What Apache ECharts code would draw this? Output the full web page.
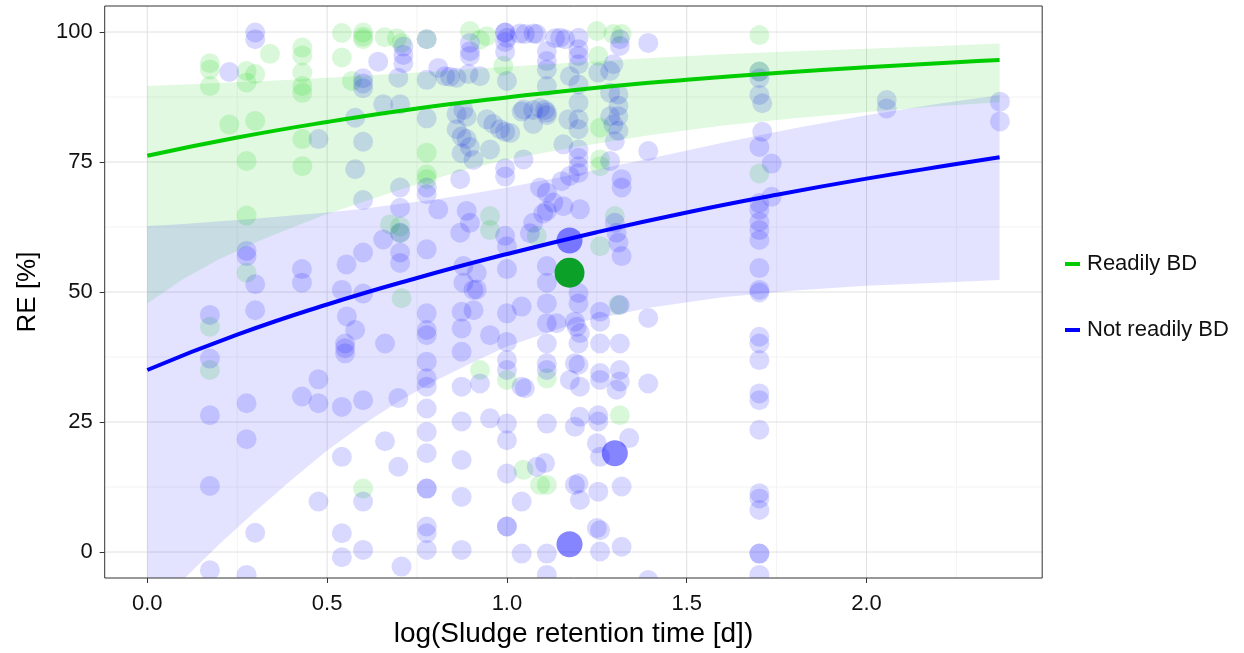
<!DOCTYPE html>
<html><head><meta charset="utf-8">
<script src="https://cdn.jsdelivr.net/npm/echarts@6/dist/echarts.min.js"></script>
<style>html,body{margin:0;padding:0;background:#fff}#c{width:1244px;height:653px}</style>
</head><body><div id="c"></div>
<script>
// ---- axis ticks ----
const xTicks = [0, 0.5, 1, 1.5, 2];
const xMinor = [0.25, 0.75, 1.25, 1.75, 2.25];
const yTicks = [0, 25, 50, 75, 100];
const yMinor = [12.5, 37.5, 62.5, 87.5];
const XMIN = -0.1185, XMAX = 2.4885, YMIN = -5, YMAX = 105;

// ---- fitted curves ----
const readilyFit = [[0,76.2],[0.25,79.7],[0.5,82.7],[0.75,85.3],[1.0,87.4],[1.25,89.3],[1.5,90.8],[1.75,92.1],[2.0,93.2],[2.25,94.2],[2.37,94.6]];
const notReadilyFit = [[0,35.0],[0.25,41.8],[0.5,47.6],[0.75,52.7],[1.0,57.3],[1.25,61.5],[1.5,65.3],[1.75,68.7],[2.0,71.8],[2.25,74.6],[2.37,75.9]];

// ---- confidence bands ----
const bandX          = [0, 0.1, 0.2, 0.3, 0.4, 0.5, 0.6, 0.7, 0.8, 0.9, 1.0, 1.2, 1.4, 1.6, 1.8, 2.0, 2.2, 2.37];
const readilyUpper   = [89.6,89.9,90.2,90.5,90.8,91.2,91.6,92.0,92.4,92.9,93.3,94.2,95.0,95.7,96.3,96.8,97.3,97.8];
const readilyLower   = [47.8,52.5,56.3,59.5,62.3,65.0,67.3,69.6,71.8,73.8,75.5,78.0,80.2,82.0,83.4,84.6,85.7,86.5];
const notReadilyUpper= [62.7,63.1,63.6,64.1,64.7,65.3,66.0,66.9,67.8,68.9,70.1,72.8,75.7,78.7,81.5,84.0,86.2,87.9];
const notReadilyLower= [-12.5,-5.3,1.5,7.8,13.8,19.5,24.5,29.0,32.9,36.3,39.5,44.2,47.0,49.0,50.3,51.2,51.8,52.3];

// ---- observations ----
const readilyPoints = [
 [0.174,94.0],[0.174,92.8],[0.174,89.6],[0.174,43.3],[0.174,35.0],
 [0.228,82.2],
 [0.276,92.5],[0.276,90.3],[0.276,75.2],[0.276,64.7],[0.276,53.7],
 [0.30,91.9],[0.30,82.9],[0.341,95.8],
 [0.431,97.0],[0.431,95.5],[0.431,92.2],[0.431,89.6],[0.431,88.3],[0.431,79.4],[0.431,74.2],
 [0.541,99.8],[0.541,95.1],[0.569,90.6],
 [0.60,99.9],[0.60,99.1],[0.60,98.6],[0.60,12.2],
 [0.66,99.0],[0.675,63.0],[0.694,98.8],[0.703,62.6],[0.703,61.3],[0.707,97.9],[0.707,48.8],
 [0.777,98.6],[0.777,76.8],[0.777,72.6],[0.777,71.7],
 [0.897,100.2],[0.925,98.5],[0.925,35.0],[0.944,99.2],[0.953,64.6],[0.953,61.9],
 [0.99,93.5],[1.0,33.1],[1.046,15.8],[1.083,60.8],[1.092,12.9],[1.111,33.4],[1.111,12.9],
 [1.25,100.2],[1.254,95.4],[1.259,81.6],[1.259,75.5],[1.259,74.2],[1.259,58.8],
 [1.296,99.6],[1.319,99.6],[1.30,64.6],[1.31,47.5],[1.314,26.3],
 [1.702,99.4],[1.702,92.4],[1.702,72.8]
];
const notReadilyPoints = [
 [0.174,45.6],[0.174,37.2],[0.174,26.3],[0.174,12.7],[0.174,-3.5],
 [0.228,92.3],
 [0.276,57.9],[0.276,56.9],[0.276,28.6],[0.276,21.7],[0.276,-4.4],
 [0.30,99.9],[0.30,98.6],[0.30,51.5],[0.30,46.5],[0.30,3.7],
 [0.43,54.4],[0.43,51.8],[0.43,29.9],
 [0.476,79.4],[0.476,33.2],[0.476,28.6],[0.476,9.7],
 [0.541,50.4],[0.541,27.9],[0.541,18.3],[0.541,3.6],[0.541,-1.0],[0.554,55.3],[0.555,45.3],
 [0.55,40.1],[0.55,38.2],[0.55,39.2],
 [0.578,42.7],[0.578,83.5],[0.578,73.6],
 [0.60,91.1],[0.60,90.1],[0.60,89.2],[0.60,78.9],[0.60,67.7],[0.60,57.6],[0.60,49.7],[0.60,29.2],[0.60,9.7],[0.60,0.4],
 [0.642,94.3],[0.656,86.1],[0.656,60.1],[0.661,40.1],[0.661,21.3],
 [0.698,91.2],[0.698,29.6],[0.698,16.4],
 [0.712,97.2],[0.712,95.6],[0.712,94.0],[0.703,86.1],[0.703,70.1],[0.703,66.2],[0.703,61.4],[0.703,57.6],[0.703,55.6],[0.707,-2.8],
 [0.777,98.6],[0.777,90.8],[0.777,83.4],[0.777,70.1],[0.777,68.8],[0.777,58.2],[0.777,45.9],[0.777,42.7],[0.777,41.7],[0.777,36.6],[0.777,33.4],[0.777,31.8],[0.777,27.6],[0.777,23.1],[0.777,19.0],[0.777,12.2],[0.777,12.2],[0.777,4.9],[0.777,3.6],[0.777,0.4],
 [0.809,93.1],[0.809,65.9],[0.828,91.5],[0.842,91.4],
 [0.86,91.2],[0.86,84.2],[0.86,81.3],
 [0.874,79.9],[0.874,76.7],[0.87,71.7],[0.87,61.4],[0.879,55.0],[0.879,51.8],[0.874,46.2],[0.874,43.0],[0.874,38.5],[0.874,31.8],[0.874,25.1],[0.874,17.7],[0.874,10.6],[0.874,0.4],[0.879,85.0],
 [0.888,83.7],[0.888,65.6],[0.888,79.4],[0.893,91.9],
 [0.897,97.9],[0.897,96.3],[0.897,95.4],[0.897,63.3],[0.897,77.9],
 [0.907,50.4],[0.907,46.5],[0.907,75.4],[0.916,53.7],[0.916,50.5],
 [0.925,91.5],[0.925,32.4],[0.944,83.2],[0.953,41.7],[0.953,25.7],[0.953,77.4],[0.962,82.3],[0.981,81.3],
 [0.995,99.9],[0.995,99.9],[1.0,98.9],[0.995,98.1],[0.995,96.2],[1.0,90.6],[0.995,80.8],[0.995,73.8],[0.995,72.2],[0.995,60.8],[1.0,58.8],[1.0,54.4],[1.0,45.9],[1.0,40.4],[1.0,36.9],[1.0,35.0],[1.0,24.7],[1.0,21.5],[1.0,15.1],[1.0,4.9],[1.0,4.9],
 [1.009,80.6],
 [1.036,99.7],[1.05,99.6],[1.046,85.1],[1.041,84.7],[1.046,75.5],[1.041,47.2],[1.041,31.8],[1.05,31.5],[1.041,9.7],[1.041,-0.3],
 [1.064,61.3],
 [1.074,99.7],[1.083,99.6],[1.073,85.0],[1.073,82.3],[1.073,63.3],[1.083,16.4],
 [1.092,85.4],[1.092,70.1],
 [1.111,96.3],[1.111,94.4],[1.111,92.8],[1.111,89.6],[1.106,85.0],[1.111,84.5],[1.111,84.0],[1.111,69.1],[1.111,65.6],[1.101,65.1],[1.111,55.0],[1.111,51.8],[1.111,47.8],[1.111,44.0],[1.111,40.1],[1.111,36.3],[1.111,35.0],[1.111,24.7],[1.106,17.1],[1.111,-0.3],[1.111,-4.4],
 [1.134,98.8],[1.129,67.2],[1.138,44.0],
 [1.148,98.9],[1.162,98.6],[1.157,78.4],[1.152,71.3],[1.157,66.5],
 [1.171,83.2],[1.175,91.5],[1.175,72.3],
 [1.199,98.9],[1.199,96.7],[1.199,95.4],[1.199,93.8],[1.199,89.9],[1.199,86.4],[1.199,83.2],[1.199,81.3],[1.199,77.4],[1.199,75.8],[1.199,74.2],[1.199,72.9],[1.203,65.9],[1.199,49.8],[1.199,47.8],[1.189,44.3],[1.194,43.3],[1.203,42.1],[1.199,40.1],[1.189,36.3],[1.199,36.0],[1.175,33.1],[1.203,31.8],[1.203,26.0],[1.189,24.1],[1.199,13.2],[1.189,12.9],[1.203,10.0],
 [1.254,92.2],[1.259,46.2],[1.259,44.3],[1.259,40.1],[1.259,34.4],[1.259,33.1],[1.254,25.1],[1.254,26.3],[1.25,20.9],[1.259,18.3],[1.254,11.6],[1.25,4.6],[1.259,4.2],[1.259,0.1],
 [1.296,93.8],[1.287,92.5],[1.287,88.3],[1.287,83.8],[1.296,82.2],[1.30,79.0],[1.287,75.2],
 [1.314,98.6],[1.314,97.3],[1.31,88.0],[1.31,85.8],[1.31,83.8],[1.31,81.0],[1.319,71.7],[1.319,70.1],[1.30,63.3],[1.305,61.4],[1.31,59.5],[1.319,56.9],[1.314,47.5],[1.314,40.1],[1.314,35.0],[1.314,32.8],[1.305,31.2],[1.319,12.6],[1.319,1.0],
 [1.34,21.9],
 [1.393,97.9],[1.393,77.1],[1.393,45.0],[1.393,32.4],[1.393,-5.4],
 [1.702,92.4],[1.702,91.1],[1.702,87.9],[1.71,86.3],[1.71,80.8],[1.702,77.9],[1.702,67.1],[1.702,65.8],[1.702,63.5],[1.702,61.9],[1.702,60.0],[1.702,54.6],[1.702,50.4],[1.702,49.9],[1.702,41.4],[1.702,40.1],[1.702,36.9],[1.702,30.5],[1.702,29.2],[1.702,23.5],[1.702,11.3],[1.702,10.3],[1.702,8.1],[1.702,-0.3],[1.702,-0.3],[1.702,-4.4],
 [1.736,74.7],[1.736,68.3],
 [2.056,86.9],[2.056,85.3],
 [2.371,86.6],[2.371,82.8]
];
// large marks (heavily overlapping observations)
const readilyLarge = [[1.174,53.7]];
const notReadilyLarge = [[1.174,59.9],[1.30,19.0],[1.174,1.5]];

const GREEN = '#00cd00', BLUE = '#0000ff';
const FONT = "'Liberation Sans', Arial, sans-serif";

function gridLineSeries(vals, dir, color, z) {
  return {
    type: 'custom', silent: true, z: z, clip: true,
    data: vals.map(v => [v]),
    encode: dir === 'v' ? { x: 0 } : { y: 0 },
    renderItem: (p, api) => {
      const v = api.value(0);
      const a = dir === 'v' ? api.coord([v, YMIN]) : api.coord([XMIN, v]);
      const b = dir === 'v' ? api.coord([v, YMAX]) : api.coord([XMAX, v]);
      return { type: 'line', shape: { x1: a[0], y1: a[1], x2: b[0], y2: b[1] }, style: { stroke: color, lineWidth: 1 } };
    }
  };
}
function pointSeries(name, data, color, size, opacity, z) {
  return {
    type: 'custom', name: name, silent: true, z: z, clip: true,
    data: data, encode: { x: 0, y: 1 },
    renderItem: (p, api) => {
      const c = api.coord([api.value(0), api.value(1)]);
      return { type: 'circle', shape: { cx: c[0], cy: c[1], r: size / 2 }, style: { fill: color, opacity: opacity } };
    }
  };
}
function bandSeries(xs, lo, hi, color, opacity, z) {
  return {
    type: 'custom', silent: true, z: z, clip: true,
    data: [[xs[0], hi[0]]], encode: { x: 0, y: 1 },
    renderItem: (p, api) => {
      const pts = [];
      for (let i = 0; i < xs.length; i++) pts.push(api.coord([xs[i], hi[i]]));
      for (let i = xs.length - 1; i >= 0; i--) pts.push(api.coord([xs[i], lo[i]]));
      return { type: 'polygon', shape: { points: pts }, style: { fill: color, opacity: opacity } };
    }
  };
}

const chart = echarts.init(document.getElementById('c'), null, { renderer: 'canvas' });
chart.setOption({
  animation: false,
  backgroundColor: '#fff',
  grid: { left: 104.7, right: 201.8, top: 6, bottom: 75, show: true, z: 10,
          backgroundColor: 'transparent', borderColor: '#333', borderWidth: 1 },
  xAxis: {
    type: 'value', min: XMIN, max: XMAX,
    axisLine: { show: false, onZero: false },
    splitLine: { show: false },
    axisTick: { show: true, length: 5, lineStyle: { color: '#333' }, customValues: xTicks },
    axisLabel: { customValues: xTicks, formatter: v => Number(v).toFixed(1), fontSize: 22, color: '#111', margin: 15, fontFamily: FONT },
    name: 'log(Sludge retention time [d])', nameLocation: 'middle', nameGap: 41,
    nameTextStyle: { fontSize: 28, color: '#000', fontFamily: FONT }
  },
  yAxis: {
    type: 'value', min: YMIN, max: YMAX,
    axisLine: { show: false, onZero: false },
    splitLine: { show: false },
    axisTick: { show: true, length: 5, lineStyle: { color: '#333' }, customValues: yTicks },
    axisLabel: { customValues: yTicks, formatter: v => String(v), fontSize: 22, color: '#111', margin: 12, fontFamily: FONT },
    name: 'RE [%]', nameLocation: 'middle', nameGap: 64, nameRotate: 90,
    nameTextStyle: { fontSize: 26, color: '#000', fontFamily: FONT }
  },
  legend: {
    orient: 'vertical', left: 1060, top: 248, itemWidth: 15, itemHeight: 4, itemGap: 44,
    selectedMode: false,
    textStyle: { fontSize: 22, color: '#111', fontFamily: FONT, padding: [0, 0, 0, 2] },
    data: [ { name: 'Readily BD', icon: 'rect', itemStyle: { color: GREEN } },
            { name: 'Not readily BD', icon: 'rect', itemStyle: { color: BLUE } } ]
  },
  series: [
    gridLineSeries(xMinor, 'v', '#f3f3f3', 1),
    gridLineSeries(yMinor, 'h', '#f3f3f3', 1),
    gridLineSeries(xTicks, 'v', '#e0e0e0', 1),
    gridLineSeries(yTicks, 'h', '#e0e0e0', 1),
    pointSeries('Readily BD pts', readilyPoints, GREEN, 20, 0.15, 3),
    pointSeries('Not readily BD pts', notReadilyPoints, BLUE, 20, 0.15, 3),
    pointSeries('Not readily BD large', notReadilyLarge, BLUE, 26, 0.48, 3),
    pointSeries('Readily BD large', readilyLarge, '#00b000', 30, 0.95, 3),
    bandSeries(bandX, readilyLower, readilyUpper, GREEN, 0.12, 4),
    bandSeries(bandX, notReadilyLower, notReadilyUpper, BLUE, 0.11, 4),
    { type: 'line', name: 'Readily BD', data: readilyFit, smooth: true, showSymbol: false, z: 5,
      color: GREEN, lineStyle: { color: GREEN, width: 4 }, itemStyle: { color: GREEN } },
    { type: 'line', name: 'Not readily BD', data: notReadilyFit, smooth: true, showSymbol: false, z: 5,
      color: BLUE, lineStyle: { color: BLUE, width: 4 }, itemStyle: { color: BLUE } }
  ]
});
</script></body></html>
